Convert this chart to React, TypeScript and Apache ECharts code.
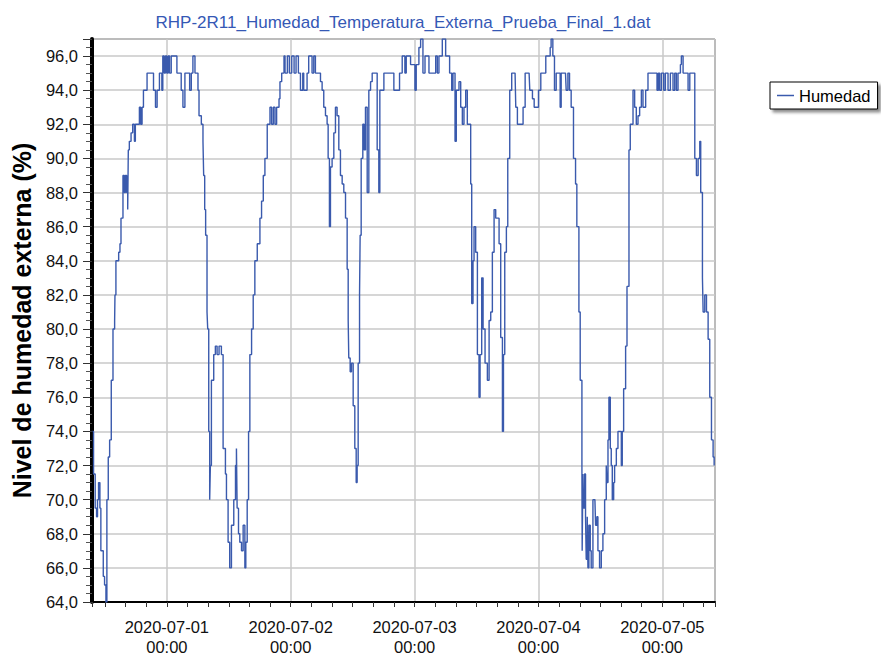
import React, { useEffect, useRef } from 'react';
import * as echarts from 'echarts';

const chartTitle = 'RHP-2R11_Humedad_Temperatura_Externa_Prueba_Final_1.dat';
const seriesName = 'Humedad';
const yAxisName = 'Nivel de humedad externa (%)';
const xStart = '2020-06-30 09:30';
const xEnd = '2020-07-05 10:12';
const yMin = 64;
const yMax = 97;
const yStep = 2;

const jun30Times = ['09:36','09:48','10:07','10:23','10:34','10:46','11:02','11:13','11:41','11:56','12:12','12:23','12:39','12:55','13:14','13:34','13:53','13:57','14:08','14:40','14:55','15:07','15:30','15:46','15:58','16:13','16:25','16:32','16:44','17:04','17:23','17:43','17:54','18:41','18:56','19:12','19:28','20:10','21:25','21:48','22:07','22:34','23:02','23:13','23:29','23:44'];
const jun30Hum = [74,71.5,69.5,69,70,71,69.5,67,65.5,65,64,70,72.5,73.5,77,80,80.5,82,84,84.5,85,86.5,89,88,89,88,87,90.5,91,91.5,92,91,92,93,92,93,94,95,94,93,94,95,94,96,95,96];

const jul01Times = ['00:00','00:16','00:31','00:51','01:57','02:47','03:07','03:30','04:25','04:44','05:03','05:27','06:02','06:14','06:41','07:00','07:08','07:20','07:31','07:47','07:55','08:07','08:18','08:26','08:38','09:05','09:24','09:44','10:07','10:34','10:54','11:21','11:33','11:52','12:11','12:31','12:58','13:18','13:29','13:37','13:53','14:08','14:28','14:47','15:07','15:18','15:34','15:50','16:05','16:25','16:44','17:03','17:31','18:02','18:21','18:41','19:00','19:27','19:59','20:18','20:38','20:57','21:16','21:44','21:55','22:15','22:42','22:54','23:21','23:44'];
const jul01Hum = [95,96,95,96,95,94,93,95,94,95,96,95,94,92.5,92,91,89,87,85.5,81,80,74,70,72,77,78.5,79,78.5,79,78.5,73,71.5,70,67.5,66,68.5,70,72,73,69.5,68,67.5,67,68.5,66,67.5,70,74,78.5,80,82,84,85,86.5,87.5,89,90,92,93,92,93,92,93,93.5,94.5,95,96,95,96,95];

const jul02Times = ['00:12','00:39','01:02','01:29','01:53','02:20','02:31','03:10','03:29','04:08','04:28','04:47','05:46','06:05','06:24','06:44','07:03','07:15','07:30','07:42','08:01','08:21','08:40','08:59','09:19','09:38','09:58','10:17','10:37','10:56','11:08','11:15','11:31','11:46','12:06','12:25','12:41','12:52','13:04','13:20','13:27','13:39','13:58','14:14','14:29','14:49','15:08','15:28','15:47','16:34','16:45','17:04','17:16','17:43','18:03','19:20','19:59','20:50','21:05','21:36','22:07','22:23','23:13'];
const jul02Hum = [96,95,96,95,94,95,94,95,96,95,96,95,94.5,94,93,92.5,92,90,86,89.5,90,91.5,93,92.5,90.5,89,88.5,88,86.5,83.5,80.5,78.3,77.5,78,75.5,73,71,72,78,82,85.5,90,92,90.5,93,88,94,94.5,95,95,90.5,88,94,94,95,95,94,94,95,96,95,96,95.5];

const jul03Times = ['00:04','00:19','00:50','01:10','01:37','02:01','02:47','04:05','04:24','04:43','05:22','06:01','06:47','07:11','07:26','07:50','08:05','08:36','08:56','09:15','09:34','09:54','10:13','10:40','10:52','11:04','11:19','11:31','11:50','12:10','12:29','12:41','13:00','13:16','13:39','14:06','14:26','14:45','15:04','15:24','15:43','16:22','16:41','17:01','17:13','17:28','17:47','18:03','18:26','18:49','19:28','19:36','19:55','20:46','21:01','21:25','22:11','22:19','22:50','23:10','23:49'];
const jul03Hum = [94,95.5,96.5,97,95,96,95,96,95,96,97,96,95,94,95,91,94,94.5,93,92,93,94,92,92,88.5,81.5,84,86,84.5,78.5,76,78.5,83,80,78,77,80.5,81,84.5,87,86.5,85,79.5,74,78.5,84.5,86,90,94,95,95,93,92,92,93,95,95,94,93.5,93,93];

const jul04Times = ['00:00','00:27','01:06','01:25','02:01','02:16','02:27','02:47','03:06','03:26','03:57','04:12','04:24','05:14','05:22','05:42','06:01','06:20','06:47','07:11','07:26','07:50','08:05','08:25','08:28','08:36','08:44','08:56','09:07','09:15','09:27','09:35','09:46','10:02','10:13','10:33','10:56','11:04','11:19','11:31','11:50','12:10','12:29','12:49','13:08','13:16','13:28','13:39','13:55','14:06','14:18','14:34','14:45','15:05','15:24','15:51','16:03','16:14','16:30','16:53','17:09','17:32','17:47','18:19','18:38','18:57','19:17','19:36','19:56','20:15','20:46','21:13','22:43','22:58','23:14','23:29','23:49'];
const jul04Hum = [94,95,95,96,96,96.5,97,96,94,95,95,93,95,95,94,95,94,93,90,88.5,86,81,77,72,67,71.5,69.5,71.5,69,66.5,69,66,68.5,67,66,70,70,68.5,69,67,66,67,68,70,72,71,73.5,76,73,72,70,71,72,73,74,74,72,74,76.5,79,82.5,90.5,92,94,93,92,92.5,93,94,93,94,95,95,94,95,94,95];

const jul05Times = ['00:16','00:35','01:06','01:33','02:04','02:24','02:43','03:02','03:30','03:41','04:01','04:40','04:59','05:19','06:05','06:17','06:36','06:56','07:15','07:26','07:46','07:54','08:13','08:33','08:52','09:11','09:31','09:50','10:02','10:10'];
const jul05Hum = [94,95,94,95,94,95,94,95,95.5,96,95,95,94,95,95,90,89,90,91,88,83,81,82,81,79.4,76,73.5,72.5,72,72];

const dayBlocks: [string, string[], number[]][] = [
  ['2020-06-30', jun30Times, jun30Hum],
  ['2020-07-01', jul01Times, jul01Hum],
  ['2020-07-02', jul02Times, jul02Hum],
  ['2020-07-03', jul03Times, jul03Hum],
  ['2020-07-04', jul04Times, jul04Hum],
  ['2020-07-05', jul05Times, jul05Hum],
];

const toMs = (s: string) => new Date(s.replace(' ', 'T') + ':00').getTime();
const HOUR = 3600 * 1000;
const DAY = 24 * HOUR;
const FONT = 'Liberation Sans, Arial, sans-serif';
const LINE_COLOR = '#3a5aad';

const pad = (n: number) => String(n).padStart(2, '0');

export default function App() {
  const ref = useRef<HTMLDivElement>(null);

  useEffect(() => {
    if (!ref.current) return;
    const chart = echarts.init(ref.current, null, { renderer: 'svg' });

    const data: [number, number][] = [];
    dayBlocks.forEach(([date, times, vals]) => {
      times.forEach((t, i) => data.push([toMs(`${date} ${t}`), vals[i]]));
    });

    const xMinMs = toMs(xStart);
    const xMaxMs = toMs(xEnd);

    const option: any = {
      animation: false,
      backgroundColor: '#ffffff',
      title: {
        text: chartTitle,
        left: 398,
        top: 9,
        textAlign: 'center',
        textStyle: { color: '#3558b5', fontSize: 17, fontWeight: 'normal', fontFamily: FONT },
      },
      legend: {
        left: 770,
        top: 82,
        data: [{ name: seriesName, icon: 'rect' }],
        itemWidth: 17,
        itemHeight: 1.5,
        itemGap: 6,
        padding: [5, 7, 5, 7],
        borderColor: '#000',
        borderWidth: 1,
        backgroundColor: '#fff',
        shadowColor: 'rgba(0,0,0,0.45)',
        shadowBlur: 3,
        shadowOffsetX: 3,
        shadowOffsetY: 3,
        textStyle: { fontSize: 16.5, color: '#000', fontFamily: FONT },
      },
      grid: {
        left: 92,
        top: 39,
        width: 623,
        height: 565,
        show: true,
        borderColor: '#333',
        borderWidth: 1,
        backgroundColor: '#fff',
      },
      xAxis: [
        {
          type: 'time',
          position: 'bottom',
          min: xMinMs,
          max: xMaxMs,
          minInterval: DAY,
          maxInterval: DAY,
          axisLine: { show: true, onZero: false, lineStyle: { color: '#000', width: 2 } },
          axisTick: { show: true, length: 5, lineStyle: { color: '#333' } },
          splitLine: { show: true, lineStyle: { color: '#c8c8c8', width: 1.5 } },
          axisLabel: {
            showMinLabel: false,
            showMaxLabel: false,
            hideOverlap: false,
            fontSize: 16.5,
            lineHeight: 20,
            color: '#111',
            fontFamily: FONT,
            margin: 15,
            formatter: (v: number) => {
              const d = new Date(v);
              if (d.getHours() !== 0 || d.getMinutes() !== 0) return '';
              return `${d.getFullYear()}-${pad(d.getMonth() + 1)}-${pad(d.getDate())}\n00:00`;
            },
          },
        },
        {
          type: 'time',
          position: 'bottom',
          min: xMinMs,
          max: xMaxMs,
          minInterval: 6 * HOUR,
          maxInterval: 6 * HOUR,
          axisLine: { show: false, onZero: false },
          axisTick: { show: true, length: 5, lineStyle: { color: '#333' } },
          splitLine: { show: false },
          axisLabel: { show: false },
        },
      ],
      yAxis: {
        type: 'value',
        min: yMin,
        max: yMax,
        interval: yStep,
        name: yAxisName,
        nameLocation: 'middle',
        nameGap: 57,
        nameTextStyle: { fontSize: 25, fontWeight: 'bold', color: '#000', fontFamily: FONT },
        axisLine: { show: true, lineStyle: { color: '#000', width: 4 } },
        axisTick: { show: true, length: 9, lineStyle: { color: '#333' } },
        minorTick: { show: true, splitNumber: 4, length: 6, lineStyle: { color: '#555' } },
        splitLine: { show: true, lineStyle: { color: '#c8c8c8', width: 1.5 } },
        axisLabel: {
          showMaxLabel: false,
          fontSize: 16.5,
          color: '#111',
          fontFamily: FONT,
          margin: 14,
          formatter: (v: number) => v.toFixed(1).replace('.', ','),
        },
      },
      series: [
        {
          name: seriesName,
          type: 'line',
          xAxisIndex: 0,
          data,
          step: 'end',
          showSymbol: false,
          symbol: 'none',
          lineStyle: { color: LINE_COLOR, width: 1.4 },
          itemStyle: { color: LINE_COLOR },
        },
      ],
    };

    chart.setOption(option);
    return () => chart.dispose();
  }, []);

  return (
    <div
      ref={ref}
      style={{ position: 'fixed', left: 0, top: 0, width: 881, height: 657, background: '#fff' }}
    />
  );
}
